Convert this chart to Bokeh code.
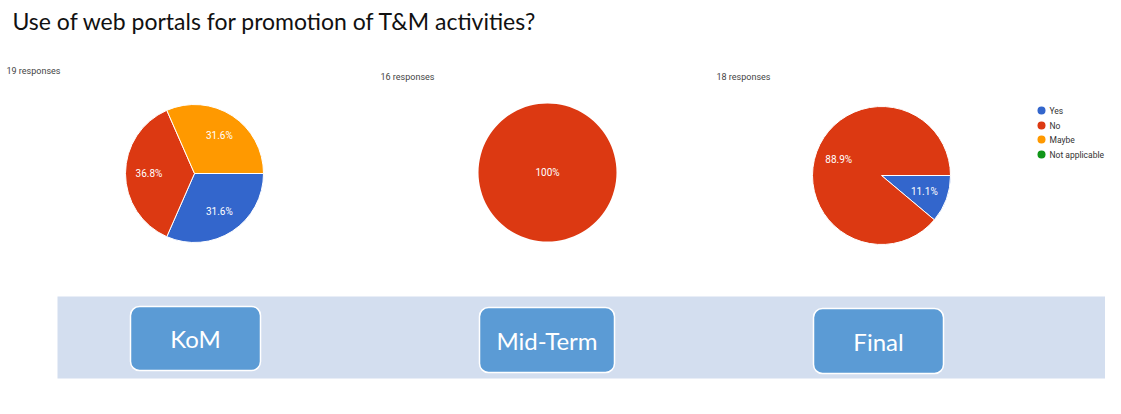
import numpy as np
from bokeh.plotting import figure
from bokeh.models import Range1d, ColumnDataSource
from bokeh.core.properties import value
from bokeh.embed import file_html
from bokeh.resources import INLINE

# ---- data ----
title_text = "Use of web portals for promotion of T&M activities?"
answers = ["Yes", "No", "Maybe", "Not applicable"]
answer_colors = ["#3366cc", "#dc3912", "#ff9900", "#109618"]
stages = ["KoM", "Mid-Term", "Final"]
responses = [19, 16, 18]
kom_counts = [6, 7, 6, 0]
mid_counts = [0, 16, 0, 0]
final_counts = [2, 16, 0, 0]
all_counts = [kom_counts, mid_counts, final_counts]

# ---- layout (picture pixel coordinates, y down) ----
W, H = 1105, 398
def Y(py):
    return H - py

p = figure(width=W, height=H, x_range=Range1d(0, W), y_range=Range1d(0, H),
           output_backend="svg", toolbar_location=None, min_border=0)
p.axis.visible = False
p.grid.visible = False
p.outline_line_color = None
p.background_fill_color = "white"
p.border_fill_color = "white"

# title
p.text(x=[12], y=[Y(20)], text=[title_text], text_font=value("Lato"), text_font_size="23px",
       text_color="#111111", text_baseline="middle", text_align="left")

centers = [(194, 173), (547, 172), (881, 175)]
radius = 69
resp_pos = [(6, 70), (380, 76), (716, 76)]

for (cx, cy), counts, n, (rx, ry) in zip(centers, all_counts, responses, resp_pos):
    p.text(x=[rx], y=[Y(ry)], text=[f"{n} responses"], text_font=value("Roboto"),
           text_font_size="9px", text_color="#444444", text_baseline="middle", text_align="left")
    c = np.array(counts, dtype=float)
    frac = c / c.sum()
    cum = np.concatenate([[0], np.cumsum(frac)])
    idx = [i for i in range(len(c)) if c[i] > 0]
    starts, ends, cols, lx, ly, labs = [], [], [], [], [], []
    for i in idx:
        a0 = cum[i] * 2 * np.pi
        a1 = cum[i + 1] * 2 * np.pi
        if frac[i] >= 0.9999:
            a1 = a0 + 2 * np.pi - 1e-4
        starts.append(-a1)
        ends.append(-a0)
        cols.append(answer_colors[i])
        if frac[i] >= 0.9999:
            lx.append(cx); ly.append(Y(cy)); labs.append("100%")
        else:
            mid = (a0 + a1) / 2
            lx.append(cx + 0.66 * radius * np.cos(mid))
            ly.append(Y(cy) - 0.66 * radius * np.sin(mid))
            labs.append(f"{frac[i]*100:.1f}%")
    src = ColumnDataSource(dict(x=[cx] * len(idx), y=[Y(cy)] * len(idx), s=starts, e=ends, c=cols))
    p.wedge(x="x", y="y", radius=radius, start_angle="s", end_angle="e", fill_color="c",
            line_color="white", line_width=1 if len(idx) > 1 else 0, source=src)
    p.text(x=lx, y=ly, text=labs, text_font=value("Roboto"), text_font_size="10px",
           text_color="white", text_align="center", text_baseline="middle")

# legend
leg_y = [110, 125, 139, 154]
p.scatter(x=[1041] * 4, y=[Y(v) for v in leg_y], size=8, marker="circle",
          fill_color=answer_colors, line_color=None)
p.text(x=[1049] * 4, y=[Y(v) for v in leg_y], text=answers, text_font=value("Roboto"),
       text_font_size="8.5px", text_color="#333333", text_baseline="middle", text_align="left")

# bottom band with stage boxes
p.quad(left=[57], right=[W], top=[Y(296)], bottom=[Y(378)], fill_color="#d3deef", line_color=None)
box_l = [130, 479, 813]
box_r = [260, 614, 943]
box_t = [306, 307, 308]
box_b = [370, 372, 373]
p.quad(left=box_l, right=box_r, top=[Y(v) for v in box_t], bottom=[Y(v) for v in box_b],
       fill_color="#5b9bd5", line_color="white", line_width=1.5, border_radius=9)
p.text(x=[(a + b) / 2 for a, b in zip(box_l, box_r)],
       y=[Y((a + b) / 2) for a, b in zip(box_t, box_b)], text=stages,
       text_font=value("Lato"), text_font_size="24px", text_color="white",
       text_align="center", text_baseline="middle")

open("out.html", "w").write(file_html(p, INLINE))
